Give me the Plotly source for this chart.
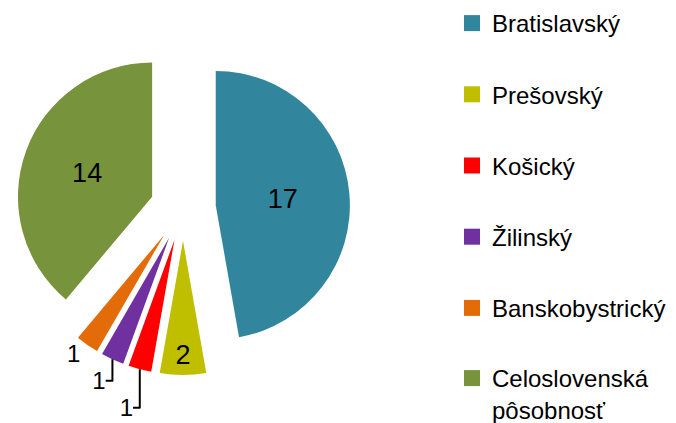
import plotly.graph_objects as go

labels = ["Bratislavský", "Prešovský", "Košický", "Žilinský", "Banskobystrický", "Celoslovenská<br>pôsobnosť"]
values = [17, 2, 1, 1, 1, 14]
colors = ["#31859C", "#BFBF00", "#FF0000", "#7030A0", "#E36C09", "#77933C"]
positions = ["inside", "inside", "outside", "outside", "outside", "inside"]
pulls = [0.245] * 6
legend_ids = ["legend", "legend", "legend", "legend", "legend", "legend2"]

FONT = "Liberation Sans"

fig = go.Figure()
fig.add_trace(go.Pie(
    labels=labels, values=values, sort=False, direction="clockwise", rotation=0,
    marker=dict(colors=colors, line=dict(width=0)),
    pull=pulls, textinfo="value", textposition=positions,
    insidetextorientation="horizontal",
    textfont=dict(family=FONT, size=27, color="black"),
    insidetextfont=dict(family=FONT, size=27, color="black"),
    outsidetextfont=dict(family=FONT, size=24, color="black"),
    showlegend=False, hoverinfo="label+value",
    domain=dict(x=[8/676, 342/676], y=[1-367/423, 1-33/423]),
))

for lab, col, lg in zip(labels, colors, legend_ids):
    fig.add_trace(go.Scatter(
        x=[None], y=[None], mode="markers", name=lab, legendgroup=lab, legend=lg,
        marker=dict(symbol="square", size=16, color=col, line=dict(width=0)),
        showlegend=True,
    ))

leg_common = dict(xanchor="left",
                  font=dict(family=FONT, size=24, color="black"),
                  valign="top", traceorder="grouped", bgcolor="rgba(0,0,0,0)")

fig.update_layout(
    width=676, height=423,
    margin=dict(l=0, r=0, t=0, b=0, autoexpand=False),
    paper_bgcolor="white", plot_bgcolor="white",
    xaxis=dict(visible=False), yaxis=dict(visible=False),
    legend=dict(x=444/676, y=1 - 322/423, yanchor="bottom", tracegroupgap=37, **leg_common),
    legend2=dict(x=444/676, y=1 - 348/423, yanchor="top", **leg_common),
)

fig.write_html("out.html")
